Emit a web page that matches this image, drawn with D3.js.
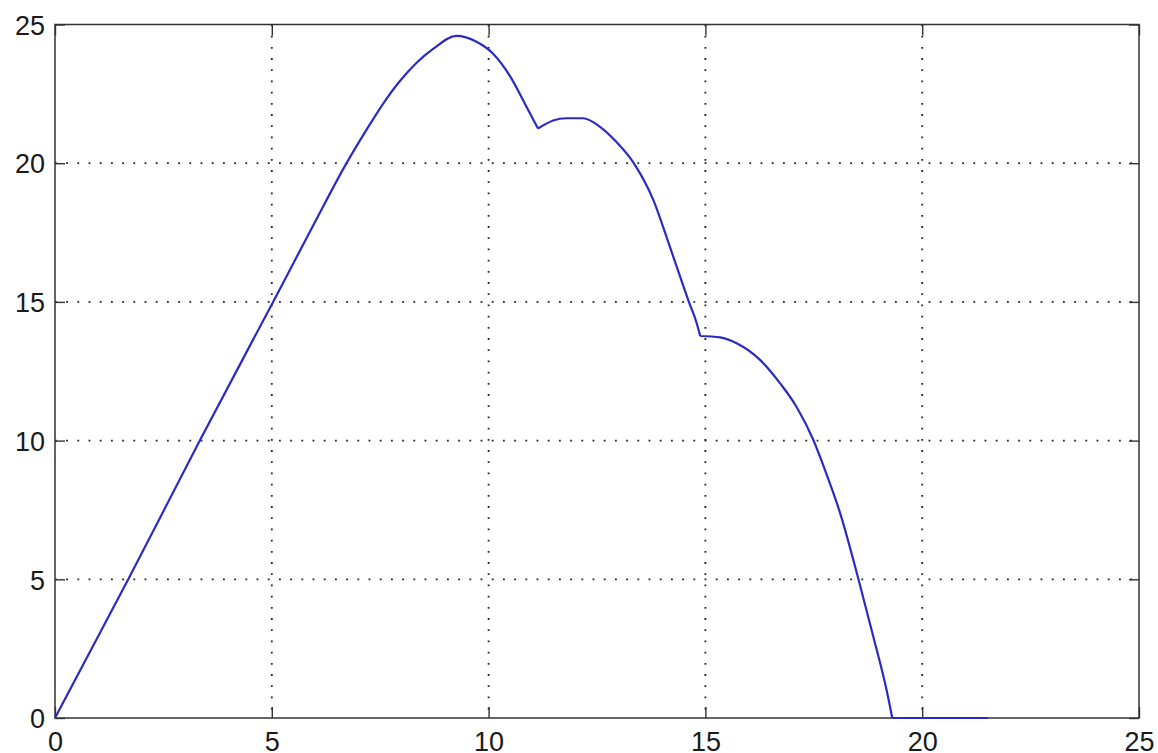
<!DOCTYPE html>
<html>
<head>
<meta charset="utf-8">
<script src="https://cdn.jsdelivr.net/npm/d3@7"></script>
<style>
  body { margin: 0; background: #fff; overflow: hidden; }
  text { font-family: "Liberation Sans", Arial, Helvetica, sans-serif; }
</style>
</head>
<body>
<div id="chart"></div>
<script>
(function() {
  var w = 1158,
      h = 753;

  // values
  var xValues = [0, 1.69, 3.34, 5.03, 5.96, 6.73, 7.19, 7.57, 7.96, 8.34, 8.72, 9.26, 9.72, 10.11,
                 10.49, 10.88, 11.14, 11.49, 11.79, 12.18, 12.57, 12.95, 13.34, 13.80, 14.18, 14.61,
                 14.80, 14.88, 15.34, 15.72, 16.26, 16.72, 17.10, 17.49, 17.80, 18.10, 18.53, 18.87,
                 19.18, 19.31, 20.5, 21.52];
  var yValues = [0, 5, 10, 15, 17.77, 20.02, 21.22, 22.15, 22.97, 23.62, 24.12, 24.59, 24.38, 23.94,
                 23.15, 22.02, 21.25, 21.54, 21.62, 21.62, 21.31, 20.76, 20.02, 18.67, 16.99, 15.04,
                 14.23, 13.77, 13.72, 13.51, 12.91, 12.07, 11.22, 10.02, 8.76, 7.42, 5.0, 2.95,
                 1.0, 0, 0, 0];
  var xTicks = [0, 5, 10, 15, 20, 25];
  var yTicks = [0, 5, 10, 15, 20, 25];

  var left = 55, right = 1139, top = 24.5, bottom = 718;

  var svg = d3.select("#chart")
    .append("svg")
    .attr("width", w)
    .attr("height", h)
    .style("display", "block")

  var x = d3.scaleLinear().domain([0, 25]).range([left, right])
  var y = d3.scaleLinear().domain([0, 25]).range([bottom, top])

  // dotted grid
  svg.selectAll(".vgrid")
    .data(xTicks.slice(1, -1))
    .enter().append("line")
    .attr("x1", function(d) { return x(d) })
    .attr("x2", function(d) { return x(d) })
    .attr("y1", top)
    .attr("y2", bottom)
    .attr("stroke", "#222")
    .attr("stroke-width", 1.8)
    .attr("stroke-dasharray", "1.8,9.4")

  svg.selectAll(".hgrid")
    .data(yTicks.slice(1, -1))
    .enter().append("line")
    .attr("x1", left)
    .attr("x2", right)
    .attr("y1", function(d) { return y(d) })
    .attr("y2", function(d) { return y(d) })
    .attr("stroke", "#222")
    .attr("stroke-width", 1.8)
    .attr("stroke-dasharray", "1.8,9.4")

  // axes with inward ticks, like matlab
  function styleAxis(g) {
    g.select(".domain").remove()
    g.selectAll(".tick line").attr("stroke", "#333").attr("stroke-width", 1.4)
    g.selectAll(".tick text")
      .attr("fill", "#1a1a1a")
      .style("font-size", "27px")
  }

  svg.append("g")
    .attr("transform", "translate(0," + bottom + ")")
    .call(d3.axisBottom(x).tickValues(xTicks).tickSizeInner(-11).tickSizeOuter(0).tickPadding(0))
    .call(styleAxis)
    .selectAll(".tick text").attr("y", 33).attr("dy", 0)

  svg.append("g")
    .attr("transform", "translate(0," + top + ")")
    .call(d3.axisTop(x).tickValues(xTicks).tickSizeInner(-11).tickSizeOuter(0).tickFormat(""))
    .call(styleAxis)

  svg.append("g")
    .attr("transform", "translate(" + left + ",0)")
    .call(d3.axisLeft(y).tickValues(yTicks).tickSizeInner(-10).tickSizeOuter(0).tickPadding(10))
    .call(styleAxis)
    .selectAll(".tick text").attr("dy", "0.36em")

  svg.append("g")
    .attr("transform", "translate(" + right + ",0)")
    .call(d3.axisRight(y).tickValues(yTicks).tickSizeInner(-10).tickSizeOuter(0).tickFormat(""))
    .call(styleAxis)

  // frame
  svg.append("rect")
    .attr("x", left)
    .attr("y", top)
    .attr("width", right - left)
    .attr("height", bottom - top)
    .attr("fill", "none")
    .attr("stroke", "#333")
    .attr("stroke-width", 1.5)

  var points = xValues.map(function(d, i) { return [d, yValues[i]] })

  // break the curve at its kinks so the smoothing keeps them sharp
  var kinks = [0, 11.14, 14.88, 19.31, 21.52]
  var pieces = d3.pairs(kinks).map(function(p) {
    return points.filter(function(d) { return d[0] >= p[0] && d[0] <= p[1] })
  })

  var line = d3.line()
    .x(function(d) { return x(d[0]) })
    .y(function(d) { return y(d[1]) })
    .curve(d3.curveMonotoneX)

  svg.append("path")
    .attr("d", pieces.map(function(p) { return line(p) }).join(""))
    .attr("fill", "none")
    .attr("stroke", "#2b2bc4")
    .attr("stroke-width", 2.2)
    .attr("stroke-linejoin", "round")

})();
</script>
</body>
</html>
